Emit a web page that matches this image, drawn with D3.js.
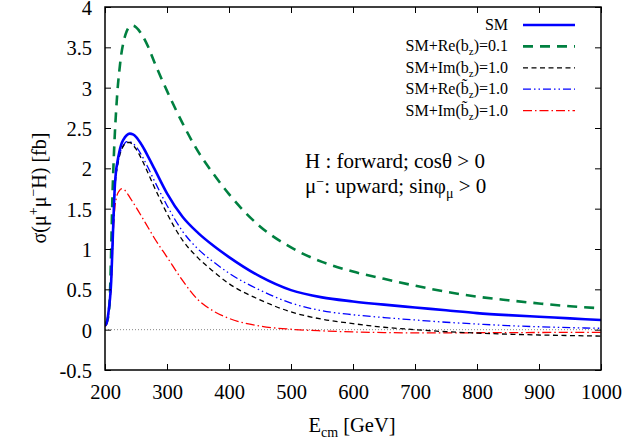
<!DOCTYPE html>
<html>
<head>
<meta charset="utf-8">
<script src="https://cdn.jsdelivr.net/npm/d3@7/dist/d3.min.js"></script>
</head>
<body style="margin:0">
<script>
// centre-of-mass energy grid (GeV)
const energies = [200, 203, 206, 208, 210, 212, 214, 216, 218, 220, 223, 226, 230, 235, 240, 245, 250, 260, 270, 280, 300, 325, 350, 375, 400, 450, 500, 550, 600, 650, 700, 750, 800, 850, 900, 950, 1000];

// cross sections (fb)
const sigmaSM    = [0.05, 0.09, 0.24, 0.38, 0.60, 1.02, 1.45, 1.80, 1.98, 2.08, 2.20, 2.29, 2.36, 2.41, 2.43, 2.42, 2.39, 2.28, 2.14, 1.99, 1.69, 1.40, 1.20, 1.04, 0.90, 0.66, 0.49, 0.40, 0.35, 0.31, 0.275, 0.24, 0.205, 0.18, 0.16, 0.14, 0.12];
const sigmaReBz  = [0.05, 0.10, 0.20, 0.45, 1.00, 1.65, 2.10, 2.45, 2.72, 2.95, 3.20, 3.40, 3.57, 3.70, 3.76, 3.77, 3.75, 3.65, 3.50, 3.31, 2.96, 2.56, 2.21, 1.93, 1.68, 1.28, 1.02, 0.84, 0.72, 0.63, 0.545, 0.47, 0.41, 0.365, 0.325, 0.29, 0.265];
const sigmaImBz  = [0.05, 0.09, 0.22, 0.36, 0.58, 1.00, 1.42, 1.76, 1.93, 2.03, 2.14, 2.22, 2.28, 2.32, 2.32, 2.29, 2.24, 2.10, 1.93, 1.76, 1.44, 1.11, 0.89, 0.72, 0.57, 0.37, 0.22, 0.13, 0.075, 0.03, 0.0, -0.025, -0.042, -0.056, -0.066, -0.073, -0.08];
const sigmaReBzT = [0.05, 0.09, 0.22, 0.36, 0.58, 1.00, 1.42, 1.76, 1.93, 2.03, 2.15, 2.23, 2.29, 2.33, 2.33, 2.31, 2.27, 2.15, 2.00, 1.84, 1.54, 1.22, 1.00, 0.84, 0.70, 0.49, 0.33, 0.235, 0.185, 0.15, 0.12, 0.092, 0.07, 0.05, 0.036, 0.025, 0.017];
const sigmaImBzT = [0.04, 0.07, 0.20, 0.34, 0.55, 0.95, 1.30, 1.52, 1.62, 1.68, 1.72, 1.745, 1.74, 1.70, 1.64, 1.58, 1.52, 1.39, 1.26, 1.13, 0.90, 0.61, 0.37, 0.23, 0.14, 0.045, 0.005, -0.015, -0.028, -0.036, -0.04, -0.04, -0.038, -0.037, -0.035, -0.034, -0.033];

// tick labels
const xTicks = [200, 300, 400, 500, 600, 700, 800, 900, 1000];
const yTicks = [-0.5, 0, 0.5, 1, 1.5, 2, 2.5, 3, 3.5, 4];

// legend entries and styles
const seriesNames = ["SM", "SM+Re(b_z)=0.1", "SM+Im(b_z)=1.0", "SM+Re(b~_z)=1.0", "SM+Im(b~_z)=1.0"];
const seriesData = [sigmaSM, sigmaReBz, sigmaImBz, sigmaReBzT, sigmaImBzT];
const seriesStyle = [
  { color: "#0000ff", width: 2.6, dash: null },
  { color: "#008040", width: 2.6, dash: "10,7" },
  { color: "#000000", width: 1.3, dash: "5,3.5" },
  { color: "#0000ff", width: 1.3, dash: "8,3,1.5,3,1.5,3" },
  { color: "#ff0000", width: 1.3, dash: "9,3,1.5,3" }
];

const serif = sel => sel.style("font-family", '"Liberation Serif"');

const svg = d3.select("body").append("svg").attr("width", 626).attr("height", 442);

const x = d3.scaleLinear().domain([200, 1000]).range([105, 601]);
const y = d3.scaleLinear().domain([-0.5, 4]).range([370, 7]);

// dotted zero line
svg.append("line")
  .attr("x1", x(200)).attr("x2", x(1000))
  .attr("y1", y(0)).attr("y2", y(0))
  .attr("stroke", "#888").attr("stroke-width", 1)
  .attr("stroke-dasharray", "1,2");

svg.append("clipPath").attr("id", "plotclip")
  .append("rect").attr("x", x(200)).attr("y", y(4))
  .attr("width", x(1000) - x(200)).attr("height", y(-0.5) - y(4));

const line = d3.line()
  .x((d, i) => x(energies[i]))
  .y(d => y(d))
  .curve(d3.curveMonotoneX);

// draw back to front so SM ends on top
[4, 3, 2, 1, 0].forEach(k => {
  const st = seriesStyle[k];
  svg.append("path")
    .datum(seriesData[k])
    .attr("clip-path", "url(#plotclip)")
    .attr("fill", "none")
    .attr("stroke", st.color)
    .attr("stroke-width", st.width)
    .attr("stroke-dasharray", st.dash)
    .attr("d", line);
});

// axes, ticks pointing inward
const axB = svg.append("g").attr("transform", `translate(0,${y(-0.5)})`)
  .call(d3.axisBottom(x).tickValues(xTicks).tickSizeInner(-6).tickSizeOuter(0).tickPadding(14).tickFormat(d3.format("d")));
const axT = svg.append("g").attr("transform", `translate(0,${y(4)})`)
  .call(d3.axisTop(x).tickValues(xTicks).tickSizeInner(-6).tickSizeOuter(0).tickFormat(""));
const axL = svg.append("g").attr("transform", `translate(${x(200)},0)`)
  .call(d3.axisLeft(y).tickValues(yTicks).tickSizeInner(-6).tickSizeOuter(0).tickPadding(13).tickFormat(d => String(d)));
const axR = svg.append("g").attr("transform", `translate(${x(1000)},0)`)
  .call(d3.axisRight(y).tickValues(yTicks).tickSizeInner(-6).tickSizeOuter(0).tickFormat(""));

[axB, axT, axL, axR].forEach(a => {
  a.attr("font-family", null).attr("font-size", null);
  a.select(".domain").remove();
  a.selectAll(".tick line").attr("stroke", "#000").attr("stroke-width", 1);
  serif(a.selectAll("text")).attr("font-size", 20.5).attr("fill", "#000");
});
axL.selectAll("text").attr("dy", "0.36em");

// frame
svg.append("rect")
  .attr("x", x(200)).attr("y", y(4))
  .attr("width", x(1000) - x(200)).attr("height", y(-0.5) - y(4))
  .attr("fill", "none").attr("stroke", "#000").attr("stroke-width", 1.5);

// x label
const xl = serif(svg.append("text")).attr("x", 352).attr("y", 432)
  .attr("text-anchor", "middle").attr("font-size", 20.5);
xl.append("tspan").text("E");
xl.append("tspan").attr("font-size", 14).attr("dy", 5).text("cm");
xl.append("tspan").attr("dy", -5).text(" [GeV]");

// y label
const yl = serif(svg.append("text"))
  .attr("transform", "translate(46,188) rotate(-90)")
  .attr("text-anchor", "middle").attr("font-size", 20);
yl.append("tspan").text("σ(μ");
yl.append("tspan").attr("font-size", 14).attr("dy", -8).text("+");
yl.append("tspan").attr("dy", 8).text("μ");
yl.append("tspan").attr("font-size", 14).attr("dy", -8).text("−");
yl.append("tspan").attr("dy", 8).text("H) [fb]");

// annotation
serif(svg.append("text")).attr("x", 305).attr("y", 168).attr("font-size", 21)
  .text("H : forward; cosθ > 0");
const a2 = serif(svg.append("text")).attr("x", 305).attr("y", 193).attr("font-size", 21);
a2.append("tspan").text("μ");
a2.append("tspan").attr("font-size", 14).attr("dy", -7).text("−");
a2.append("tspan").attr("dy", 7).text(": upward; sinφ");
a2.append("tspan").attr("font-size", 14).attr("dy", 5).text("μ");
a2.append("tspan").attr("dy", -5).text(" > 0");

// legend
const legRight = 508, legY0 = 30, legStep = 21.4;
seriesNames.forEach((name, k) => {
  const yy = legY0 + k * legStep;
  const st = seriesStyle[k];
  svg.append("line")
    .attr("x1", 523).attr("x2", 575).attr("y1", yy - 5).attr("y2", yy - 5)
    .attr("stroke", st.color).attr("stroke-width", st.width)
    .attr("stroke-dasharray", st.dash);
  const t = serif(svg.append("text")).attr("x", legRight).attr("y", yy)
    .attr("text-anchor", "end").attr("font-size", 16);
  const m = name.match(/^(.*)\((b)(~?)_z\)(.*)$/);
  if (!m) { t.text(name); return; }
  t.append("tspan").text(m[1] + "(");
  t.append("tspan").text(m[3] ? "b\u0303" : "b");
  t.append("tspan").attr("font-size", 11).attr("dy", 4).text("z");
  t.append("tspan").attr("dy", -4).text(")" + m[4]);
});
</script>
</body>
</html>
